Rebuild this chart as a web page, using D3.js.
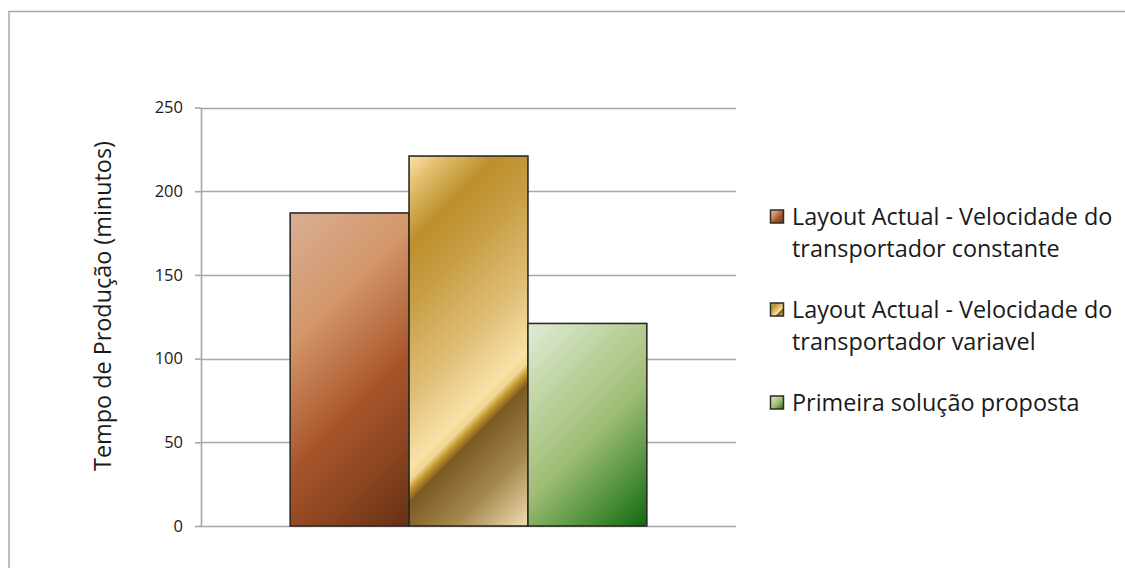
<!DOCTYPE html>
<html>
<head>
<meta charset="utf-8">
<script src="https://cdn.jsdelivr.net/npm/d3@7"></script>
<style>
  html, body { margin: 0; padding: 0; background: #fff; }
  svg { display: block; }
  text { font-family: "Open Sans", "Noto Sans", sans-serif; fill: #1a1a1a; }
</style>
</head>
<body>
<svg id="chart" width="1125" height="568"></svg>
<script>
// Production time per layout scenario (minutes)
const categories = [""];
const seriesNames = [
  "Layout Actual - Velocidade do transportador constante",
  "Layout Actual - Velocidade do transportador variavel",
  "Primeira solução proposta"
];
const legendLines = [
  ["Layout Actual - Velocidade do", "transportador constante"],
  ["Layout Actual - Velocidade do", "transportador variavel"],
  ["Primeira solução proposta"]
];
const seriesValues = [187, 221, 121];
const yTicks = [0, 50, 100, 150, 200, 250];
const yTitle = "Tempo de Produção (minutos)";

// Gradient fills for each series (diagonal, top-left to bottom-right)
const fills = [
  [[0, "#d8ae94"], [0.3, "#d4976a"], [0.6, "#a9552a"], [0.8, "#8a4420"], [1, "#643013"]],
  [[0, "#f9e3a8"], [0.06, "#e6c474"], [0.18, "#bd8f2c"], [0.3, "#c69d42"], [0.5, "#e1bf78"],
   [0.64, "#f8e2a8"], [0.665, "#f3d690"], [0.685, "#c4962e"], [0.71, "#7d5920"],
   [0.85, "#a48a50"], [1, "#f2deb2"]],
  [[0, "#e0ecd6"], [0.3, "#bcd29e"], [0.55, "#9fbd74"], [0.75, "#5f9a48"], [1, "#12690f"]]
];

const svg = d3.select("#chart");
const defs = svg.append("defs");

// Outer frame
svg.append("rect")
  .attr("x", 9).attr("y", 11.5)
  .attr("width", 1140).attr("height", 600)
  .attr("fill", "none").attr("stroke", "#a8a8a8").attr("stroke-width", 1.5);

const plot = { left: 201, right: 736, top: 107.5, bottom: 526 };

const y = d3.scaleLinear().domain([0, 250]).range([plot.bottom, plot.top]);
const x0 = d3.scaleBand().domain(categories).range([plot.left, plot.right])
  .paddingInner(0).paddingOuter(0.25);
const x1 = d3.scaleBand().domain(d3.range(seriesValues.length))
  .range([0, x0.bandwidth()]).padding(0);

// Gridlines
svg.append("g")
  .selectAll("line").data(yTicks).join("line")
  .attr("x1", plot.left).attr("x2", plot.right)
  .attr("y1", d => Math.round(y(d)) + 0.5).attr("y2", d => Math.round(y(d)) + 0.5)
  .attr("stroke", "#a6a6a6").attr("stroke-width", 1.6);

// Y axis
const yAxis = d3.axisLeft(y).tickValues(yTicks).tickSize(6).tickPadding(12).tickSizeOuter(0);
const gy = svg.append("g").attr("transform", `translate(${plot.left},0)`).call(yAxis);
gy.select(".domain").attr("stroke", "#a6a6a6").attr("stroke-width", 1.6);
gy.selectAll(".tick line").attr("stroke", "#a6a6a6").attr("stroke-width", 1.6);
gy.selectAll(".tick text")
  .style("font-family", "'Open Sans', 'Noto Sans', sans-serif")
  .attr("font-size", 16.5).attr("fill", "#1c1c2c");

// Y axis title
svg.append("text")
  .attr("transform", `translate(111,306) rotate(-90)`)
  .attr("text-anchor", "middle")
  .attr("font-size", 23.4)
  .text(yTitle);

// Bars
const bars = [];
categories.forEach(c => {
  seriesValues.forEach((v, i) => {
    bars.push({ c, i, v });
  });
});

bars.forEach(b => {
  const bx = x0(b.c) + x1(b.i);
  const by = y(b.v);
  const w = x1.bandwidth();
  const h = y(0) - by;
  const span = (w + h) / 2;
  const g = defs.append("linearGradient")
    .attr("id", "bar-grad-" + b.i)
    .attr("gradientUnits", "userSpaceOnUse")
    .attr("x1", bx).attr("y1", by)
    .attr("x2", bx + span).attr("y2", by + span);
  fills[b.i].forEach(s => g.append("stop").attr("offset", s[0]).attr("stop-color", s[1]));
});

svg.append("g")
  .selectAll("rect").data(bars).join("rect")
  .attr("x", d => x0(d.c) + x1(d.i))
  .attr("y", d => y(d.v))
  .attr("width", x1.bandwidth())
  .attr("height", d => y(0) - y(d.v))
  .attr("fill", d => `url(#bar-grad-${d.i})`)
  .attr("stroke", "#2e2a26").attr("stroke-width", 1.6);

// Legend
seriesNames.forEach((name, i) => {
  const g = defs.append("linearGradient")
    .attr("id", "leg-grad-" + i)
    .attr("x1", 0).attr("y1", 0).attr("x2", 1).attr("y2", 1);
  fills[i].forEach(s => g.append("stop").attr("offset", s[0]).attr("stop-color", s[1]));
});

const legendTop = [217, 310, 403];
const legend = svg.append("g");
legendLines.forEach((lines, i) => {
  const item = legend.append("g");
  item.append("rect")
    .attr("x", 770.5).attr("y", legendTop[i] - 7)
    .attr("width", 13).attr("height", 13)
    .attr("fill", `url(#leg-grad-${i})`)
    .attr("stroke", "#2e2a26").attr("stroke-width", 1.5);
  lines.forEach((ln, j) => {
    item.append("text")
      .attr("x", 792)
      .attr("y", legendTop[i] + 32 * j + 8)
      .attr("font-size", 23.4)
      .text(ln);
  });
});
</script>
</body>
</html>
